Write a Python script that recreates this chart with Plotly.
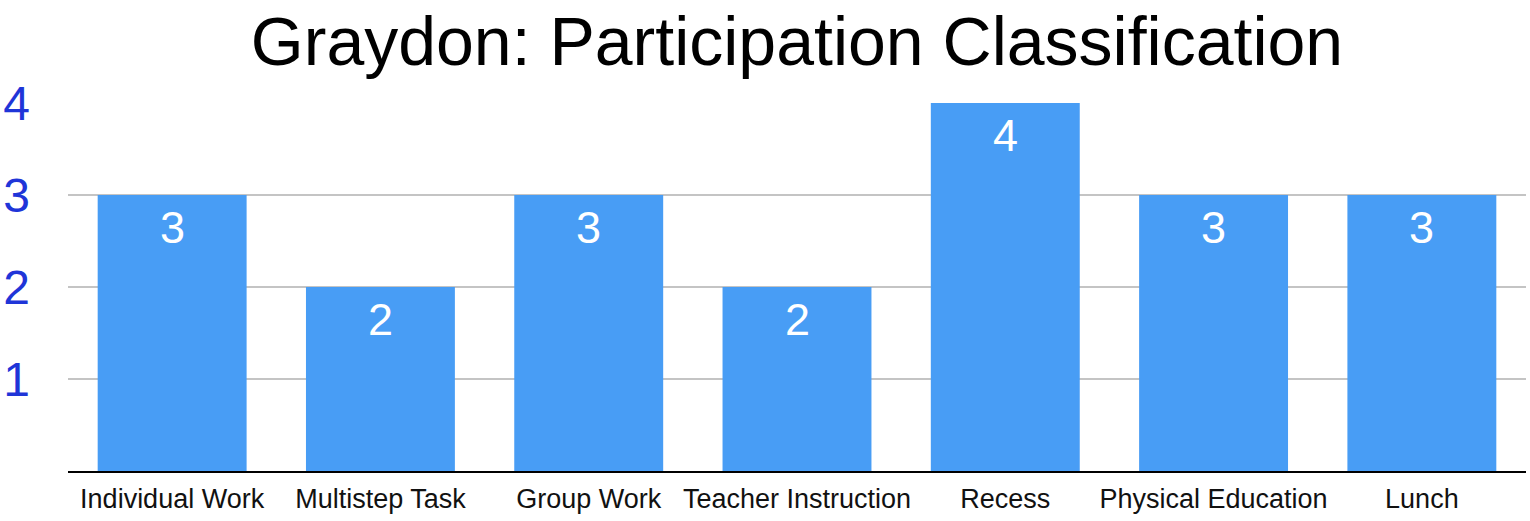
import plotly.graph_objects as go

categories = ["Individual Work", "Multistep Task", "Group Work", "Teacher Instruction",
              "Recess", "Physical Education", "Lunch"]
values = [3, 2, 3, 2, 4, 3, 3]
y_ticks = [1, 2, 3, 4]

FONT = "Liberation Sans, Arial, sans-serif"

fig = go.Figure()
fig.add_trace(go.Bar(x=categories, y=values, marker_color="#489df5",
                     marker_line_width=0, hoverinfo="x+y"))

for c, v in zip(categories, values):
    fig.add_annotation(x=c, y=v, text=str(v), showarrow=False, yshift=-32,
                       font=dict(family=FONT, size=45, color="white"))

fig.update_layout(
    width=1530, height=521,
    margin=dict(l=68, r=4, t=103, b=50, autoexpand=False),
    paper_bgcolor="white", plot_bgcolor="white",
    bargap=0.285,
    showlegend=False,
    title=dict(text="Graydon: Participation Classification", xref="paper", x=0.5,
               xanchor="center", yref="container", y=1 - 41 / 521, yanchor="middle",
               font=dict(family=FONT, size=68, color="black")),
    xaxis=dict(showgrid=False, showline=True, linecolor="black", linewidth=2,
               tickfont=dict(family=FONT, size=27, color="#111"),
               ticks="", ticklabelstandoff=3, automargin=False),
    yaxis=dict(range=[0, 4], tickvals=y_ticks, showgrid=True, gridcolor="#c4c4c4", gridwidth=1.5,
               zeroline=False, showline=False, automargin=False,
               tickfont=dict(family=FONT, size=48, color="#1f35d8"),
               ticklabelstandoff=37),
)

fig.write_html("out.html", config={"displayModeBar": False},
               post_script="document.body.style.margin='0';")
